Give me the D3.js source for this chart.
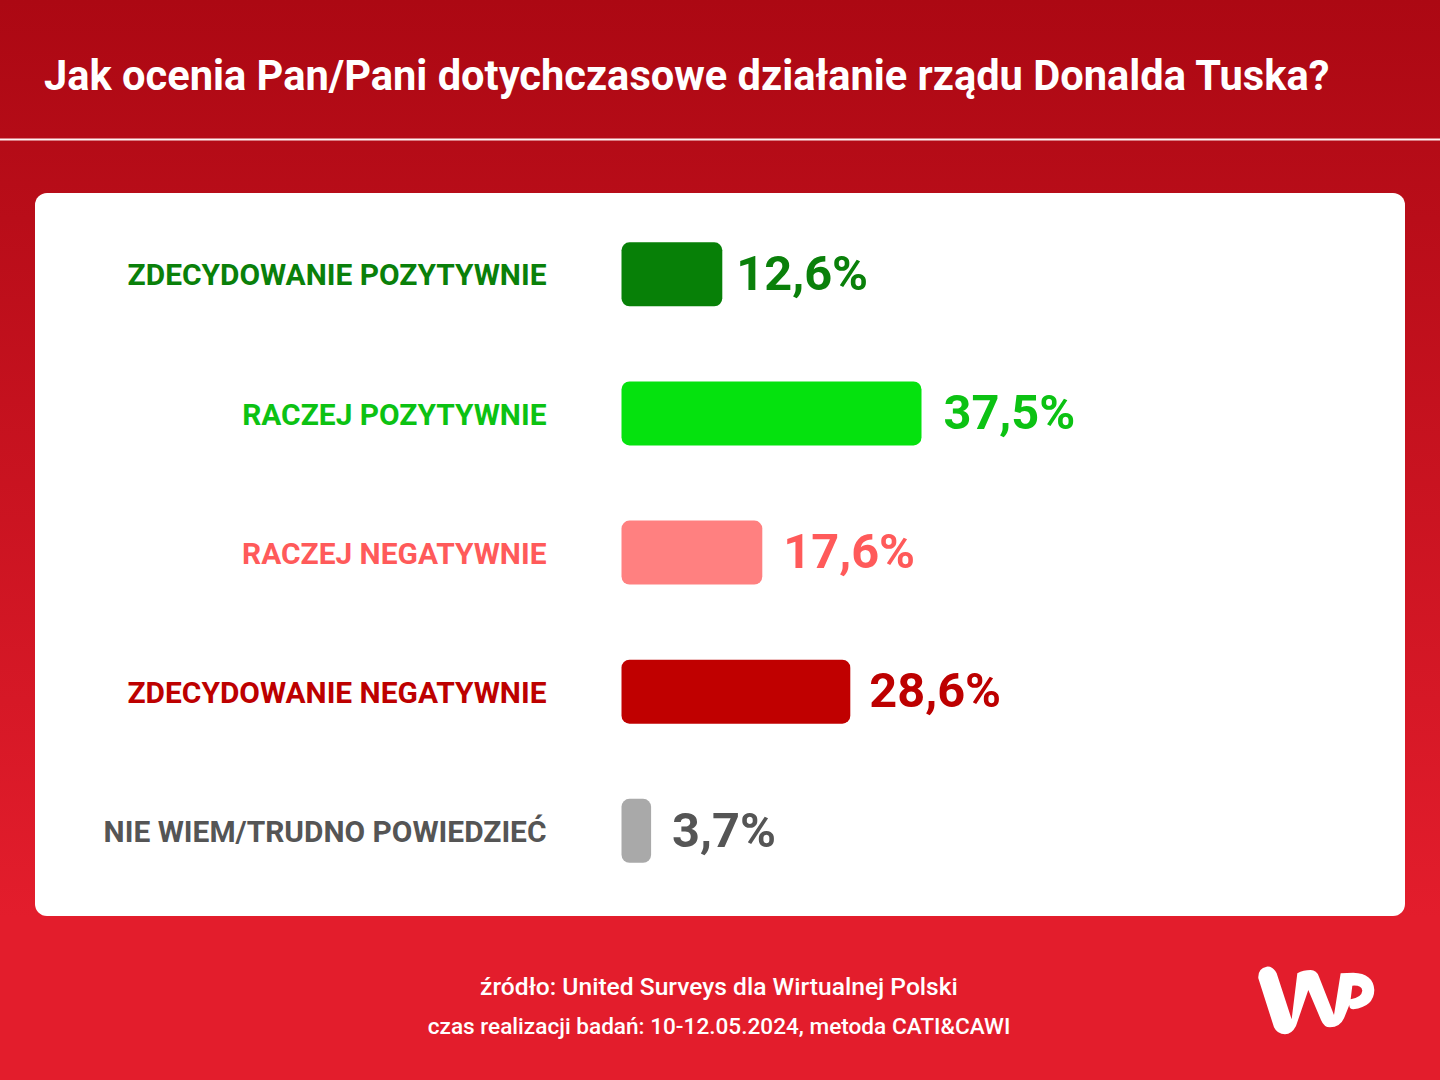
<!DOCTYPE html>
<html lang="pl">
<head>
<meta charset="utf-8">
<title>Ocena rządu Donalda Tuska</title>
<script src="https://cdn.jsdelivr.net/npm/d3@7/dist/d3.min.js"></script>
<style>
  html, body { margin: 0; padding: 0; background: #e31e2d; }
  svg { display: block; }
  text { font-family: Roboto, sans-serif; }
</style>
</head>
<body>
<svg id="chart" width="1440" height="1080"></svg>
<script>
var categories = [
  "ZDECYDOWANIE POZYTYWNIE",
  "RACZEJ POZYTYWNIE",
  "RACZEJ NEGATYWNIE",
  "ZDECYDOWANIE NEGATYWNIE",
  "NIE WIEM/TRUDNO POWIEDZIEĆ"
];
var values = [12.6, 37.5, 17.6, 28.6, 3.7];
var valueLabels = ["12,6%", "37,5%", "17,6%", "28,6%", "3,7%"];
var barColors = ["#078007", "#05e20e", "#ff8080", "#c00000", "#a9a9a9"];
var textColors = ["#0a800a", "#0cc213", "#ff5a5a", "#bd0000", "#555555"];

var title = "Jak ocenia Pan/Pani dotychczasowe działanie rządu Donalda Tuska?";
var sourceLine = "źródło: United Surveys dla Wirtualnej Polski";
var dateLine = "czas realizacji badań: 10-12.05.2024, metoda CATI&CAWI";

var svg = d3.select("#chart");

// background gradient
var grad = svg.append("defs").append("linearGradient")
  .attr("id", "bg").attr("x1", 0).attr("y1", 0).attr("x2", 0).attr("y2", 1);
grad.append("stop").attr("offset", "0%").attr("stop-color", "#ac0813");
grad.append("stop").attr("offset", "85%").attr("stop-color", "#e31d2c");
grad.append("stop").attr("offset", "100%").attr("stop-color", "#e31d2c");
svg.append("rect").attr("width", 1440).attr("height", 1080).attr("fill", "url(#bg)");

// header
svg.append("text").text(title)
  .attr("x", 44).attr("y", 90)
  .attr("font-size", 41.6).attr("font-weight", 700).attr("fill", "#fff");
svg.append("rect").attr("x", 0).attr("y", 138.5).attr("width", 1440).attr("height", 2).attr("fill", "#fdf0f0");

// white panel
svg.append("rect").attr("x", 35).attr("y", 193).attr("width", 1370).attr("height", 723)
  .attr("rx", 12).attr("fill", "#fff");

// scales: 8px per percentage point
var x = d3.scaleLinear().domain([0, 100]).range([621.5, 1421.5]);
var y = d3.scalePoint().domain(categories).range([274, 830.5]);
var barHeight = 64;

// value labels sit by hand in the original, gap to the bar end varies
var labelGap = [14, 22, 21, 19, 21];

var rows = svg.append("g").selectAll("g")
  .data(categories)
  .join("g")
  .attr("transform", function (d) { return "translate(0," + y(d) + ")"; });

rows.append("text")
  .text(function (d) { return d; })
  .attr("x", 546.5)
  .attr("y", 1)
  .attr("dy", "0.35em")
  .attr("text-anchor", "end")
  .attr("font-size", 29.9)
  .attr("font-weight", 700)
  .attr("fill", function (d, i) { return textColors[i]; });

rows.append("rect")
  .attr("x", x(0))
  .attr("y", -barHeight / 2 + 0.3)
  .attr("width", function (d, i) { return x(values[i]) - x(0); })
  .attr("height", barHeight)
  .attr("rx", 8)
  .attr("fill", function (d, i) { return barColors[i]; });

rows.append("text")
  .text(function (d, i) { return valueLabels[i]; })
  .attr("x", function (d, i) { return x(values[i]) + labelGap[i]; })
  .attr("y", -1)
  .attr("dy", "0.35em")
  .attr("font-size", 48.7)
  .attr("font-weight", 700)
  .attr("fill", function (d, i) { return textColors[i]; });

// footer
svg.append("text").text(sourceLine)
  .attr("x", 719).attr("y", 995).attr("text-anchor", "middle")
  .attr("font-size", 24.6).attr("font-weight", 500).attr("fill", "#fff");
svg.append("text").text(dateLine)
  .attr("x", 719).attr("y", 1034).attr("text-anchor", "middle")
  .attr("font-size", 22.6).attr("font-weight", 500).attr("fill", "#fff");

// WP logo, traced at 3x
svg.append("path")
  .attr("transform", "translate(1220,940) scale(0.3333)")
  .attr("fill-rule", "evenodd")
  .attr("fill", "#fff")
  .attr("d", "M115,115 Q113,85 140,80 Q160,78 170,100 L215,238 L232,100 Q250,90 272,90 Q290,90 297,110 L342,225 L362,100 L400,98 Q460,100 463,150 Q462,200 400,208 Q388,208 388,195 L372,235 Q360,262 330,262 Q312,262 303,240 L265,150 L228,258 Q215,283 195,283 Q172,283 162,262 Z M397,137 Q425,135 427,152 Q425,172 392,178 Z");
</script>
</body>
</html>
